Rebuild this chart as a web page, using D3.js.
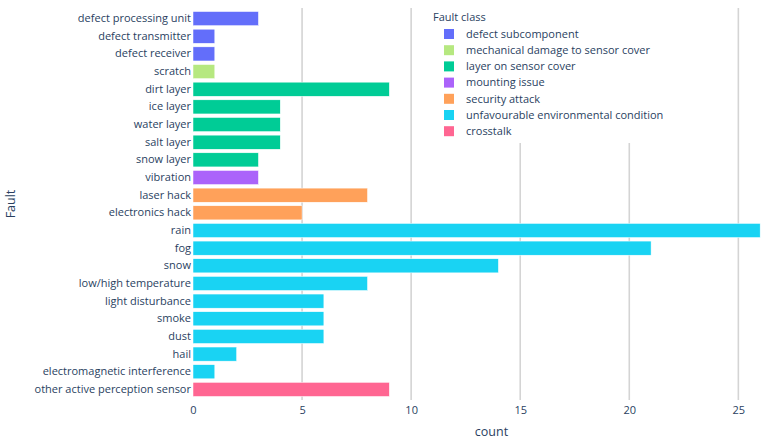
<!DOCTYPE html>
<html>
<head>
<meta charset="utf-8">
<script src="https://cdn.jsdelivr.net/npm/d3@7"></script>
<style>
  body { margin: 0; background: #fff; }
  text { font-family: "Open Sans", verdana, arial, sans-serif; fill: #2a3f5f; }
</style>
</head>
<body>
<div id="chart"></div>
<script>
// fault names, top to bottom
var faults = ['defect processing unit', 'defect transmitter', 'defect receiver', 'scratch',
  'dirt layer', 'ice layer', 'water layer', 'salt layer', 'snow layer', 'vibration',
  'laser hack', 'electronics hack', 'rain', 'fog', 'snow', 'low/high temperature',
  'light disturbance', 'smoke', 'dust', 'hail', 'electromagnetic interference',
  'other active perception sensor'];
var counts = [3, 1, 1, 1, 9, 4, 4, 4, 3, 3, 8, 5, 26, 21, 14, 8, 6, 6, 6, 2, 1, 9];
var faultClass = [0, 0, 0, 1, 2, 2, 2, 2, 2, 3, 4, 4, 5, 5, 5, 5, 5, 5, 5, 5, 5, 6];

var classNames = ['defect subcomponent', 'mechanical damage to sensor cover', 'layer on sensor cover',
  'mounting issue', 'security attack', 'unfavourable environmental condition', 'crosstalk'];
var classColors = ['#636efa', '#B6E880', '#00cc96', '#ab63fa', '#FFA15A', '#19d3f3', '#FF6692'];
var xTicks = [0, 5, 10, 15, 20, 25];

(function() {
  var width = 769, height = 444;
  var margin = { left: 193, right: 790, top: 8, bottom: 400 };

  var rows = faults.map(function(f, i) {
    return { fault: f, count: counts[i], cls: faultClass[i] };
  });

  var svg = d3.select("#chart").append("svg")
      .attr("width", width)
      .attr("height", height);

  // plotly pads the bar range a bit past the max
  var x = d3.scaleLinear()
      .domain([0, d3.max(counts) * 1.0526])
      .range([margin.left, margin.right]);

  var y = d3.scaleBand()
      .domain(faults)
      .range([margin.top, margin.bottom])
      .padding(0.2);

  // grid
  svg.append("g").selectAll("line")
      .data(xTicks.filter(function(t) { return t > 0; }))
    .enter().append("line")
      .attr("x1", function(d) { return x(d); })
      .attr("x2", function(d) { return x(d); })
      .attr("y1", margin.top)
      .attr("y2", margin.bottom)
      .attr("stroke", "#d4d4d4")
      .attr("stroke-width", 1.6);

  // bars
  svg.append("g").selectAll("rect")
      .data(rows)
    .enter().append("rect")
      .attr("x", x(0))
      .attr("y", function(d) { return y(d.fault); })
      .attr("width", function(d) { return x(d.count) - x(0); })
      .attr("height", y.bandwidth())
      .attr("fill", function(d) { return classColors[d.cls]; })
      .attr("stroke", "#fff")
      .attr("stroke-width", 0.5);

  // x axis
  var xAxis = svg.append("g")
      .attr("transform", "translate(0," + margin.bottom + ")")
      .call(d3.axisBottom(x).tickValues(xTicks).tickSize(0).tickPadding(6));
  xAxis.select(".domain").remove();
  xAxis.selectAll("text")
      .style("font-size", "11px")
      .attr("fill", "#2a3f5f");

  // y axis
  var yAxis = svg.append("g")
      .attr("transform", "translate(" + margin.left + ",0)")
      .call(d3.axisLeft(y).tickSize(0).tickPadding(2));
  yAxis.select(".domain").remove();
  yAxis.selectAll("text")
      .style("font-size", "11px")
      .attr("fill", "#2a3f5f");

  // axis titles
  svg.append("text")
      .attr("x", (margin.left + margin.right) / 2)
      .attr("y", 436)
      .attr("text-anchor", "middle")
      .style("font-size", "12.5px")
      .text("count");

  svg.append("text")
      .attr("transform", "translate(15," + (margin.top + margin.bottom) / 2 + ") rotate(-90)")
      .attr("text-anchor", "middle")
      .style("font-size", "12.5px")
      .text("Fault");

  // legend
  var legend = svg.append("g");
  legend.append("rect")
      .attr("x", 430)
      .attr("y", margin.top)
      .attr("width", 240)
      .attr("height", 135)
      .attr("fill", "#fff");

  legend.append("text")
      .attr("x", 433)
      .attr("y", 20.5)
      .style("font-size", "11px")
      .text("Fault class");

  var item = legend.selectAll("g.item")
      .data(classNames)
    .enter().append("g")
      .attr("class", "item")
      .attr("transform", function(d, i) { return "translate(0," + (34 + i * 16.2) + ")"; });

  item.append("rect")
      .attr("x", 444)
      .attr("y", -5)
      .attr("width", 10)
      .attr("height", 10)
      .attr("fill", function(d, i) { return classColors[i]; });

  item.append("text")
      .attr("x", 466)
      .attr("dy", "0.35em")
      .style("font-size", "11px")
      .text(function(d) { return d; });
})();
</script>
</body>
</html>
